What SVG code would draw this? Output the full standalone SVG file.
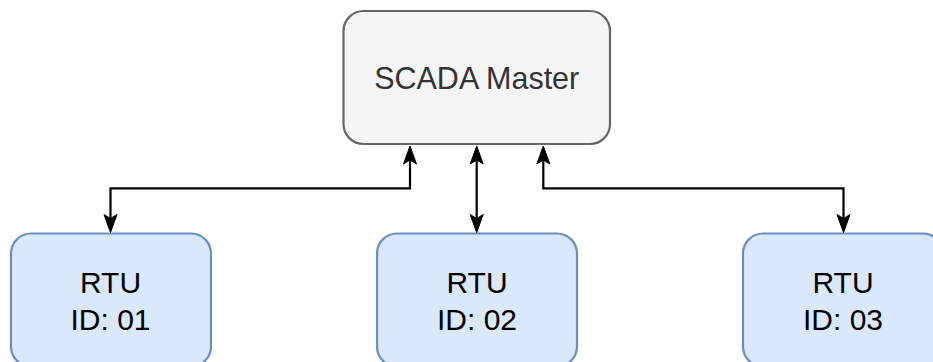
<svg xmlns="http://www.w3.org/2000/svg" width="933" height="362" viewBox="0 0 933 362">
<style>
.master rect{fill:#f5f5f5;stroke:#666666;stroke-width:2.2}
.rtu rect{fill:#dae8fc;stroke:#6c8ebf;stroke-width:2.2}
text{font-family:"Liberation Sans",Arial,sans-serif;text-anchor:middle}
.master text{fill:#333333;font-size:30.5px}
.rtu text{fill:#000000;font-size:30px}
.conn path{fill:none;stroke:#000000;stroke-width:2.2;stroke-linejoin:miter}
</style>
<defs>
<marker id="arr" markerUnits="userSpaceOnUse" markerWidth="30" markerHeight="30" viewBox="-10 -10 30 20" refX="0" refY="0" orient="auto-start-reverse" overflow="visible">
<path d="M14,0 L-4,-6.5 L0,0 L-4,6.5 Z" fill="#000000" stroke="#000000" stroke-width="1"/>
</marker>
</defs>
<g id="scada-master" class="master">
<rect x="343.5" y="11" width="266.5" height="133" rx="20" ry="20"/>
<text x="476.7" y="88.5">SCADA Master</text>
</g>
<g id="rtu-01" class="rtu">
<rect x="11" y="233.5" width="200" height="133" rx="20" ry="20"/>
<text x="110.5" y="292.5">RTU</text>
<text x="110.5" y="329.5">ID: 01</text>
</g>
<g id="rtu-02" class="rtu">
<rect x="377" y="233.5" width="200" height="133" rx="20" ry="20"/>
<text x="477" y="292.5">RTU</text>
<text x="477" y="329.5">ID: 02</text>
</g>
<g id="rtu-03" class="rtu">
<rect x="743" y="233.5" width="200" height="133" rx="20" ry="20"/>
<text x="843" y="292.5">RTU</text>
<text x="843" y="329.5">ID: 03</text>
</g>
<g id="connectors" class="conn">
<path d="M410,160 V188.3 H110.5 V218.5" marker-start="url(#arr)" marker-end="url(#arr)"/>
<path d="M476.7,160 V218.5" marker-start="url(#arr)" marker-end="url(#arr)"/>
<path d="M543.3,160 V188.3 H843.5 V218.5" marker-start="url(#arr)" marker-end="url(#arr)"/>
</g>
</svg>
